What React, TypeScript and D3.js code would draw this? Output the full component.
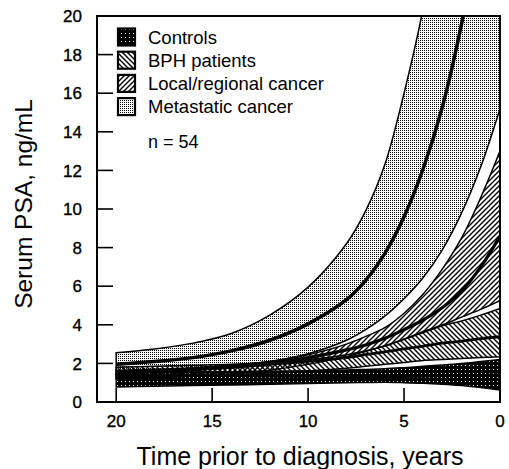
import React, { useRef, useEffect } from "react";
import * as d3 from "d3";

// years before diagnosis (x)
const years = [20, 18, 16, 14, 12, 10, 8, 7, 6, 5, 4, 3, 2, 1, 0];

// Controls
const controlsLow = [0.78, 0.82, 0.85, 0.88, 0.92, 0.96, 1.0, 1.01, 1.02, 1.0, 0.97, 0.92, 0.85, 0.75, 0.62];
const controlsMid = [1.15, 1.16, 1.17, 1.18, 1.2, 1.22, 1.25, 1.27, 1.29, 1.31, 1.33, 1.35, 1.37, 1.39, 1.42];
const controlsHigh = [1.55, 1.55, 1.56, 1.57, 1.59, 1.62, 1.66, 1.69, 1.72, 1.78, 1.85, 1.92, 2.0, 2.1, 2.2];

// BPH patients
const bphLow = [1.25, 1.3, 1.35, 1.4, 1.5, 1.6, 1.75, 1.85, 1.95, 2.05, 2.15, 2.2, 2.25, 2.3, 2.35];
const bphMid = [1.5, 1.6, 1.7, 1.8, 1.95, 2.1, 2.3, 2.45, 2.6, 2.75, 2.9, 3.05, 3.15, 3.28, 3.38];
const bphHigh = [1.8, 1.85, 1.9, 1.95, 2.05, 2.2, 2.45, 2.65, 2.9, 3.25, 3.6, 3.95, 4.2, 4.5, 4.85];

// Local/regional cancer
const localLow = [1.2, 1.25, 1.33, 1.45, 1.65, 1.95, 2.35, 2.62, 2.92, 3.25, 3.65, 4.0, 4.4, 4.8, 5.25];
const localMid = [1.5, 1.58, 1.68, 1.82, 2.02, 2.3, 2.7, 2.95, 3.3, 3.75, 4.25, 4.9, 5.75, 7.0, 8.6];
const localHigh = [1.6, 1.65, 1.75, 1.9, 2.1, 2.45, 3.0, 3.4, 3.85, 4.6, 5.6, 6.9, 8.5, 10.6, 13.0];

// Metastatic cancer
const metLow = [1.65, 1.7, 1.78, 1.9, 2.1, 2.5, 3.2, 3.75, 4.45, 5.35, 6.45, 7.9, 9.8, 12.2, 15.2];
const metMid = [1.95, 2.1, 2.3, 2.65, 3.2, 4.05, 5.3, 6.3, 7.7, 9.6, 12.1, 15.3, 19.6, 25, 32];
const metHigh = [2.55, 2.75, 3.05, 3.55, 4.5, 5.95, 8.2, 9.9, 12.3, 16.0, 20.4, 26.0, 33.0, 41, 51];

const yTicks = [0, 2, 4, 6, 8, 10, 12, 14, 16, 18, 20];
const xTicks = [20, 15, 10, 5, 0];
const legendNames = ["Controls", "BPH patients", "Local/regional cancer", "Metastatic cancer"];

const FONT = "'Liberation Sans', Arial, Helvetica, sans-serif";

const App = () => {
  const ref = useRef<SVGSVGElement>(null);

  useEffect(() => {
    document.body.style.margin = "0";
    const svg = d3.select(ref.current);
    svg.selectAll("*").remove();

    const left = 97, right = 500, top = 16, bottom = 402;
    const x = d3.scaleLinear().domain([21, 0]).range([left, right]);
    const y = d3.scaleLinear().domain([0, 20]).range([bottom, top]);

    const defs = svg.append("defs");

    // dark dots for controls
    const pc = defs.append("pattern").attr("id", "p-ctrl").attr("patternUnits", "userSpaceOnUse")
      .attr("width", 4).attr("height", 4);
    pc.append("path").attr("d", "M0,0h4v1h-4z M0,1h1v1h-1z M2,1h2v1h-2z M0,2h4v2h-4z").attr("fill", "#000");

    // "\" hatching for BPH
    const pb = defs.append("pattern").attr("id", "p-bph").attr("patternUnits", "userSpaceOnUse")
      .attr("width", 5).attr("height", 5);
    pb.append("path").attr("d", "M0,0L5,5M-1,4L1,6M4,-1L6,1").attr("stroke", "#000").attr("stroke-width", 1.4);

    // "/" hatching for local/regional
    const pl = defs.append("pattern").attr("id", "p-local").attr("patternUnits", "userSpaceOnUse")
      .attr("width", 5).attr("height", 5);
    pl.append("path").attr("d", "M0,5L5,0M-1,1L1,-1M4,6L6,4").attr("stroke", "#000").attr("stroke-width", 1.4);

    // light dots for metastatic
    const pm = defs.append("pattern").attr("id", "p-met").attr("patternUnits", "userSpaceOnUse")
      .attr("width", 2).attr("height", 2);
    pm.append("rect").attr("x", 0).attr("y", 0).attr("width", 1).attr("height", 1).attr("fill", "#000");

    defs.append("clipPath").attr("id", "plot-clip").append("rect")
      .attr("x", left).attr("y", top).attr("width", right - left).attr("height", bottom - top);

    const bands = [
      { id: "p-ctrl", low: controlsLow, mid: controlsMid, high: controlsHigh, midW: 2.5 },
      { id: "p-bph", low: bphLow, mid: bphMid, high: bphHigh, midW: 2.8 },
      { id: "p-local", low: localLow, mid: localMid, high: localHigh, midW: 3.2 },
      { id: "p-met", low: metLow, mid: metMid, high: metHigh, midW: 3.5 },
    ];

    const idx = years.map((d, i) => i);
    const plot = svg.append("g").attr("clip-path", "url(#plot-clip)");
    const curve = d3.curveCatmullRom.alpha(0.5);

    const bandArea = (b) => d3.area<number>()
      .x((i) => x(years[i]))
      .y0((i) => y(b.low[i]))
      .y1((i) => y(b.high[i]))
      .curve(curve);

    // band fills
    bands.forEach((b) => {
      plot.append("path").attr("d", bandArea(b)(idx)).attr("fill", `url(#${b.id})`);
    });

    // band outlines
    bands.forEach((b) => {
      plot.append("path").attr("d", bandArea(b)(idx)).attr("fill", "none")
        .attr("stroke", "#000").attr("stroke-width", 1.5);
    });

    // mean curves
    bands.forEach((b) => {
      const line = d3.line<number>()
        .x((i) => x(years[i]))
        .y((i) => y(b.mid[i]))
        .curve(curve);
      plot.append("path").attr("d", line(idx)).attr("fill", "none")
        .attr("stroke", "#000").attr("stroke-width", b.midW);
    });

    // frame
    svg.append("rect").attr("x", left).attr("y", top).attr("width", right - left).attr("height", bottom - top)
      .attr("fill", "none").attr("stroke", "#000").attr("stroke-width", 2);

    // y ticks (inward)
    svg.selectAll(".ytick").data(yTicks.slice(1, -1)).enter().append("line")
      .attr("x1", left).attr("x2", left + 16)
      .attr("y1", (d) => y(d)).attr("y2", (d) => y(d))
      .attr("stroke", "#000").attr("stroke-width", 1.6);
    svg.selectAll(".ylab").data(yTicks).enter().append("text")
      .attr("x", 82).attr("y", (d) => y(d)).attr("dy", "0.36em")
      .attr("text-anchor", "end").attr("font-family", FONT).attr("font-size", 17)
      .attr("stroke", "#000").attr("stroke-width", 0.35)
      .text((d) => d);

    // x ticks (inward)
    svg.selectAll(".xtick").data(xTicks.slice(0, -1)).enter().append("line")
      .attr("x1", (d) => x(d)).attr("x2", (d) => x(d))
      .attr("y1", bottom).attr("y2", bottom - 14)
      .attr("stroke", "#000").attr("stroke-width", 1.6);
    svg.selectAll(".xlab").data(xTicks).enter().append("text")
      .attr("x", (d) => x(d)).attr("y", 427)
      .attr("text-anchor", "middle").attr("font-family", FONT).attr("font-size", 17)
      .attr("stroke", "#000").attr("stroke-width", 0.35)
      .text((d) => d);

    // axis titles
    svg.append("text").attr("x", 300).attr("y", 465).attr("text-anchor", "middle")
      .attr("font-family", FONT).attr("font-size", 25).text("Time prior to diagnosis, years");
    svg.append("text").attr("transform", "translate(32,204) rotate(-90)").attr("text-anchor", "middle")
      .attr("font-family", FONT).attr("font-size", 24.5).text("Serum PSA, ng/mL");

    // legend
    const lg = svg.append("g");
    legendNames.forEach((name, i) => {
      const cy = 37 + i * 23.2;
      lg.append("rect").attr("x", 118).attr("y", cy - 8.5).attr("width", 17).attr("height", 17)
        .attr("fill", "#fff");
      lg.append("rect").attr("x", 118).attr("y", cy - 8.5).attr("width", 17).attr("height", 17)
        .attr("fill", `url(#${bands[i].id})`).attr("stroke", "#000").attr("stroke-width", 2.2);
      lg.append("text").attr("x", 148).attr("y", cy).attr("dy", "0.36em")
        .attr("font-family", FONT).attr("font-size", 18.5).text(name);
    });
    lg.append("text").attr("x", 148).attr("y", 142).attr("dy", "0.36em")
      .attr("font-family", FONT).attr("font-size", 18).text("n = 54");
  }, []);

  return <svg ref={ref} width={509} height={469} style={{ display: "block", background: "#fff" }} />;
};

export default App;
